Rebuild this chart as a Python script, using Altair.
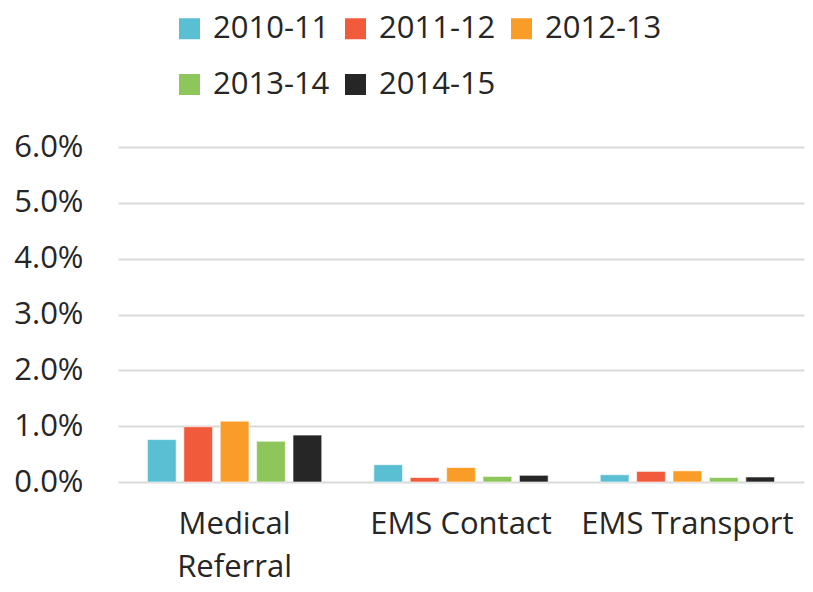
import altair as alt
import pandas as pd

categories = ["Medical Referral", "EMS Contact", "EMS Transport"]
years = ["2010-11", "2011-12", "2012-13", "2013-14", "2014-15"]
colors = ["#5BBFD3", "#F15B3B", "#F99D28", "#8DC75B", "#262626"]
values = {
    "2010-11": [0.0076, 0.0031, 0.0013],
    "2011-12": [0.0099, 0.0008, 0.0019],
    "2012-13": [0.0109, 0.0026, 0.0020],
    "2013-14": [0.0073, 0.0010, 0.0008],
    "2014-15": [0.0084, 0.0012, 0.0009],
}

rows = []
for y in years:
    for c, v in zip(categories, values[y]):
        rows.append({"category": c, "year": y, "value": v})
df = pd.DataFrame(rows)

FONT = "Open Sans"
TXT = "#262626"

chart = alt.Chart(df).mark_bar(stroke="white", strokeWidth=1, strokeOpacity=0.6).encode(
    x=alt.X("category:N", sort=categories, title=None,
            scale=alt.Scale(paddingInner=0.23, paddingOuter=0.13),
            axis=alt.Axis(labelAngle=0, domain=False, ticks=False, labelPadding=27,
                          labelFont=FONT, labelFontSize=31, labelColor=TXT,
                          labelLineHeight=43, labelLimit=400,
                          labelExpr="datum.label == 'Medical Referral' ? ['Medical', 'Referral'] : datum.label")),
    xOffset=alt.XOffset("year:N", sort=years, scale=alt.Scale(paddingInner=0.21)),
    y=alt.Y("value:Q", title=None,
            scale=alt.Scale(domain=[0, 0.06]),
            axis=alt.Axis(values=[0, 0.01, 0.02, 0.03, 0.04, 0.05, 0.06], format=".1%",
                          domain=False, ticks=False, labelPadding=35,
                          labelFont=FONT, labelFontSize=31, labelColor=TXT,
                          gridColor="#D9D9D9", gridWidth=2)),
    color=alt.Color("year:N", sort=years,
                    scale=alt.Scale(domain=years, range=colors),
                    legend=alt.Legend(title=None, orient="none", legendX=56, legendY=-134,
                                      direction="horizontal", columns=3,
                                      symbolType="square", symbolSize=441,
                                      symbolStrokeWidth=0, labelFont=FONT, labelFontSize=31,
                                      labelColor=TXT, labelOffset=8, columnPadding=10,
                                      rowPadding=24, symbolOpacity=1, labelLimit=300)),
).properties(
    width=686, height=335,
    background="white",
    autosize=alt.AutoSizeParams(type="none"),
    padding={"left": 110, "top": 139, "right": 1, "bottom": 102},
).configure_view(strokeWidth=0)

chart.save("out.html", embed_options={"renderer": "svg", "actions": False})
